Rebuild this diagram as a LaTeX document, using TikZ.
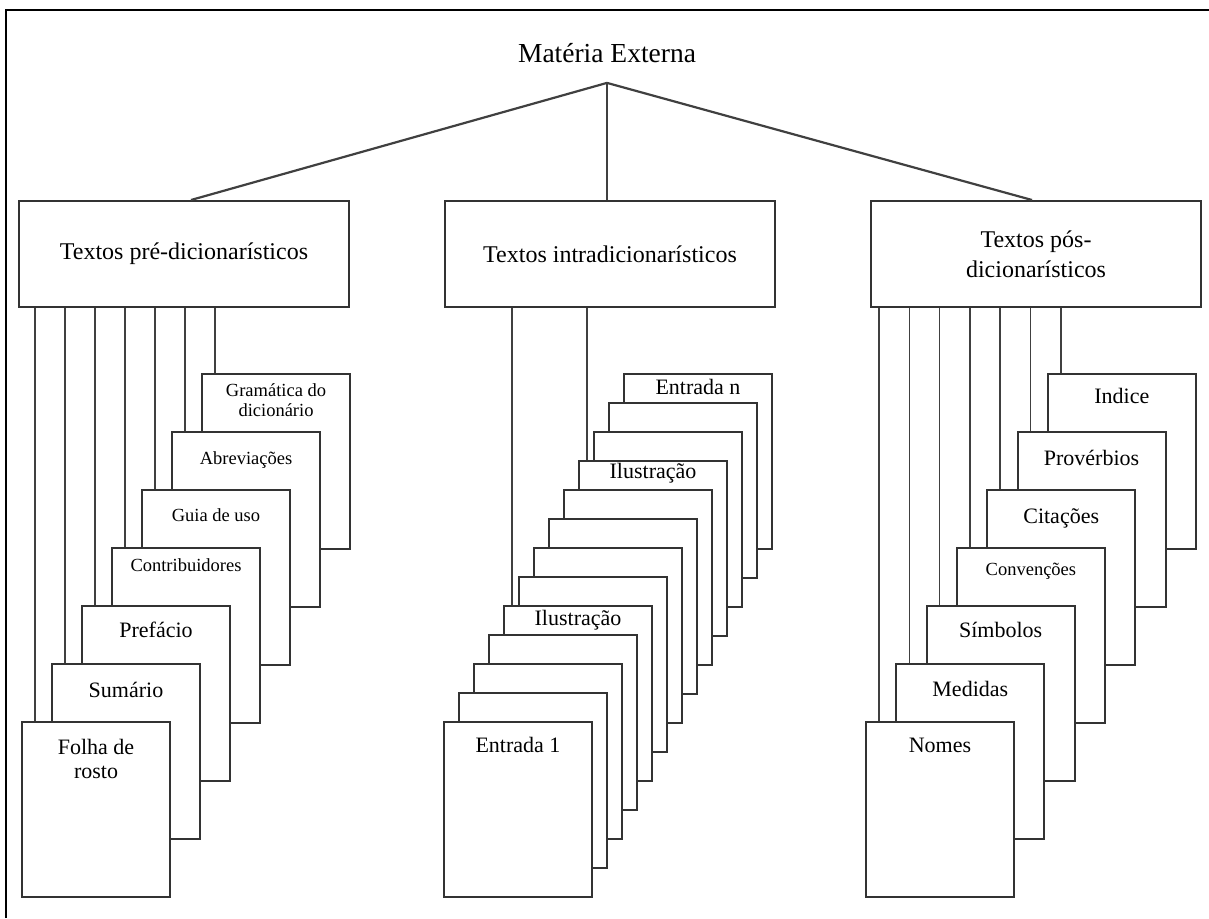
\documentclass[tikz,border=0pt]{standalone}
\usepackage{fontspec}
\setmainfont{Liberation Serif}
\usetikzlibrary{positioning}
\tikzset{
  bigbox/.style={draw=black!80, line width=2pt, minimum width=330pt, minimum height=106pt, inner sep=0pt, align=center, font=\fontsize{24}{30}\selectfont},
  card/.style={draw=black!80, line width=2pt, fill=white, minimum width=148pt, minimum height=175pt, inner sep=0pt, anchor=north west},
  link/.style={draw=black!75, line width=1.6pt},
  smalltxt/.style={inner sep=0pt, align=center, font=\fontsize{18.5}{20}\selectfont},
  largetxt/.style={inner sep=0pt, align=center, font=\fontsize{22}{24}\selectfont},
}

\begin{document}
\begin{tikzpicture}[x=1pt, y=-1pt]
  \useasboundingbox (0,0) rectangle (1209,918);
  \draw[line width=2.6pt] (6,918) -- (6,10) -- (1209,10);

  % top level
  \node[inner sep=0pt, font=\fontsize{27.5}{30}\selectfont] (title) at (607,53) {Matéria Externa};
  \coordinate[below=20pt of title] (apex);
  \node[bigbox] (pre) at (184,254) {Textos pré-dicionarísticos};
  \node[bigbox, right=94pt of pre] (intra) {Textos intradicionarísticos};
  \node[bigbox, right=94pt of intra] (pos) {Textos pós-\\dicionarísticos};
  \draw[link, line width=2.2pt] (apex) -- ([xshift=7pt]pre.north);
  \draw[link] (apex) -- (apex |- intra.north);
  \draw[link, line width=2.2pt] (apex) -- ([xshift=-4pt]pos.north);

  % stacks of pages
  \foreach \i in {6,5,...,0}
    \node[card] (l\i) at (21+30*\i, 721-58*\i) {};
  \foreach \i in {12,11,...,0}
    \node[card] (m\i) at (443+15*\i, 721-29*\i) {};
  \foreach \i in {6,5,...,0}
    \node[card] (r\i) at (865+30.3*\i, 721-58*\i) {};

  % links from the boxes
  \foreach \i in {0,...,6} {
    \path (l\i.north west) ++(14pt,0) coordinate (lt\i);
    \draw[link] (lt\i) -- (lt\i |- pre.south);
    \path (r\i.north west) ++(14pt,0) coordinate (rt\i);
    \draw[link] (rt\i) -- (rt\i |- pos.south);
  }
  \foreach \i in {4,9} {
    \path (m\i.north west) ++(9pt,0) coordinate (mt\i);
    \draw[link] (mt\i) -- (mt\i |- intra.south);
  }

  % labels
  \node[smalltxt, below=10pt of l6.north] {Gramática do\\dicionário};
  \node[smalltxt, below=20pt of l5.north] {Abreviações};
  \node[smalltxt, below=19pt of l4.north] {Guia de uso};
  \node[smalltxt, below=11pt of l3.north] {Contribuidores};
  \node[largetxt, below=16.5pt of l2.north] {Prefácio};
  \node[largetxt, below=18.5pt of l1.north] {Sumário};
  \node[largetxt, below=18.5pt of l0.north] {Folha de\\rosto};

  \node[largetxt, below=6.5pt of m12.north] {Entrada n};
  \node[largetxt, below=3.5pt of m9.north] {Ilustração};
  \node[largetxt, below=5.5pt of m4.north] {Ilustração};
  \node[largetxt, below=16.5pt of m0.north] {Entrada 1};

  \node[largetxt, below=15.5pt of r6.north] {Indice};
  \node[largetxt, below=18.5pt of r5.north] {Provérbios};
  \node[largetxt, below=19.5pt of r4.north] {Citações};
  \node[smalltxt, below=15.7pt of r3.north] {Convenções};
  \node[largetxt, below=16.5pt of r2.north] {Símbolos};
  \node[largetxt, below=18.5pt of r1.north] {Medidas};
  \node[largetxt, below=16.5pt of r0.north] {Nomes};
\end{tikzpicture}
\end{document}
